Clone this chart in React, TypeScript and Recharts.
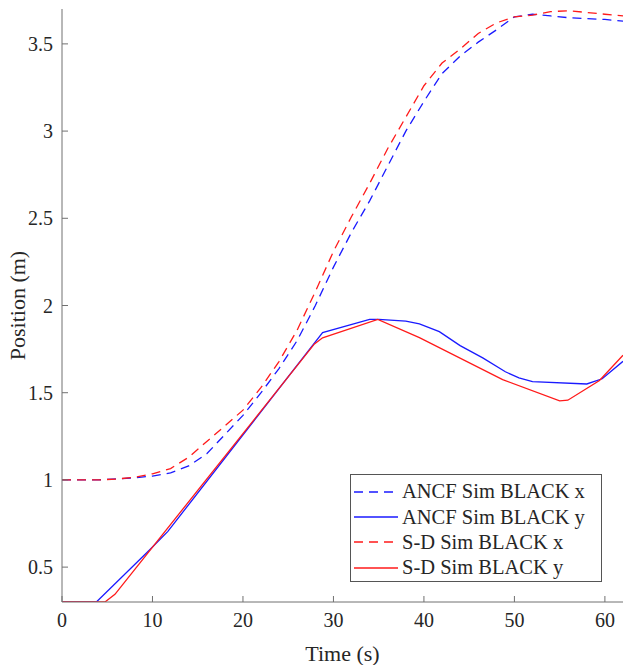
import React from "react";
import { LineChart, Line, XAxis, YAxis } from "recharts";

document.body.style.margin = "0";

// ANCF Sim BLACK x (blue dashed)
const ancfXTime = [0, 4, 8, 10, 12, 14, 16, 18, 20, 22, 24, 26, 28, 30, 32, 34, 36, 38, 40, 42, 44, 46, 48, 50, 52, 54, 56, 58, 60, 62];
const ancfXPos = [1.0, 1.0, 1.012, 1.022, 1.04, 1.08, 1.15, 1.26, 1.37, 1.5, 1.64, 1.8, 2.0, 2.22, 2.42, 2.6, 2.8, 3.0, 3.17, 3.33, 3.43, 3.51, 3.58, 3.655, 3.67, 3.66, 3.65, 3.645, 3.64, 3.63];

// ANCF Sim BLACK y (blue solid)
const ancfYTime = [0, 3.8, 9.7, 11.7, 28.8, 34, 35, 38, 39.5, 41.7, 44, 46.5, 49, 50.5, 52, 58, 59.7, 62];
const ancfYPos = [0.3, 0.3, 0.6, 0.705, 1.845, 1.92, 1.92, 1.91, 1.895, 1.85, 1.77, 1.7, 1.62, 1.585, 1.563, 1.55, 1.58, 1.68];

// S-D Sim BLACK x (red dashed)
const sdXTime = [0, 4, 6, 8, 10, 12, 14, 16, 18, 20, 22, 24, 26, 28, 30, 32, 34, 36, 38, 40, 42, 44, 46, 48, 50, 52, 54, 56, 58, 60, 62];
const sdXPos = [1.0, 1.0, 1.005, 1.015, 1.035, 1.065, 1.13, 1.22, 1.31, 1.4, 1.53, 1.68, 1.86, 2.08, 2.31, 2.51, 2.7, 2.9, 3.08, 3.26, 3.39, 3.47, 3.56, 3.62, 3.655, 3.665, 3.685, 3.69, 3.68, 3.67, 3.66];

// S-D Sim BLACK y (red solid)
const sdYTime = [0, 4.75, 5.85, 27.9, 28.8, 34.9, 39.5, 48.7, 55, 55.9, 59.4, 62];
const sdYPos = [0.3, 0.3, 0.344, 1.78, 1.815, 1.92, 1.816, 1.575, 1.453, 1.457, 1.57, 1.715];

const xTicks = [0, 10, 20, 30, 40, 50, 60];
const yTicks = [0.5, 1, 1.5, 2, 2.5, 3, 3.5];

const toPoints = (t: number[], v: number[]) => t.map((time, i) => ({ time, value: v[i] }));

const series = [
  { name: "ANCF Sim BLACK x", color: "#1a1aff", dash: "9 6", data: toPoints(ancfXTime, ancfXPos) },
  { name: "ANCF Sim BLACK y", color: "#1a1aff", dash: undefined, data: toPoints(ancfYTime, ancfYPos) },
  { name: "S-D Sim BLACK x", color: "#ff1a1a", dash: "9 6", data: toPoints(sdXTime, sdXPos) },
  { name: "S-D Sim BLACK y", color: "#ff1a1a", dash: undefined, data: toPoints(sdYTime, sdYPos) },
];

const font = "'Liberation Serif', 'DejaVu Serif', 'Noto Serif', 'Times New Roman', Times, serif";
const axisColor = "#707070";
const textColor = "#262626";

export default function App() {
  return (
    <div style={{ position: "relative", width: 623, height: 665, background: "#fff" }}>
      <LineChart width={623} height={665} margin={{ top: 9, right: 0, left: 0, bottom: 0 }} style={{ fontFamily: font }}>
        <XAxis
          type="number"
          dataKey="time"
          domain={[0, 62]}
          ticks={xTicks}
          allowDataOverflow
          height={63}
          stroke={axisColor}
          tickSize={-6}
          tickMargin={17}
          tick={{ fontSize: 20, fill: textColor, fontFamily: font }}
          label={(props: any) => {
            const vb = props.viewBox;
            return (
              <text x={vb.x + vb.width / 2} y={661} textAnchor="middle" fontSize={22} fill={textColor} style={{ fontFamily: font }}>
                Time (s)
              </text>
            );
          }}
        />
        <YAxis
          type="number"
          domain={[0.3, 3.7]}
          ticks={yTicks}
          allowDataOverflow
          width={62}
          stroke={axisColor}
          tickSize={-6}
          tickMargin={15}
          tick={{ fontSize: 20, fill: textColor, fontFamily: font }}
          label={(props: any) => {
            const vb = props.viewBox;
            const cy = vb.y + vb.height / 2;
            return (
              <text x={25} y={cy} transform={`rotate(-90, 25, ${cy})`} textAnchor="middle" fontSize={22} fill={textColor} style={{ fontFamily: font }}>
                Position (m)
              </text>
            );
          }}
        />
        {series.map((s) => (
          <Line
            key={s.name}
            data={s.data}
            dataKey="value"
            type="linear"
            stroke={s.color}
            strokeWidth={1.3}
            strokeDasharray={s.dash}
            dot={false}
            activeDot={false}
            isAnimationActive={false}
          />
        ))}
      </LineChart>

      {/* legend box */}
      <div
        style={{
          position: "absolute",
          left: 350,
          top: 474,
          width: 252,
          height: 108,
          boxSizing: "border-box",
          border: "1px solid #555",
          background: "#fff",
          fontFamily: font,
          fontSize: 20.5,
          color: textColor,
        }}
      >
        {series.map((s, i) => (
          <div
            key={s.name}
            style={{
              position: "absolute",
              left: 3,
              top: 4 + i * 25.4,
              height: 25.4,
              display: "flex",
              alignItems: "center",
              whiteSpace: "nowrap",
            }}
          >
            <svg width={44} height={4} style={{ marginRight: 4 }}>
              <line x1={0} y1={2} x2={44} y2={2} stroke={s.color} strokeWidth={1.3} strokeDasharray={s.dash ? "9 6" : undefined} />
            </svg>
            <span>{s.name}</span>
          </div>
        ))}
      </div>
    </div>
  );
}
